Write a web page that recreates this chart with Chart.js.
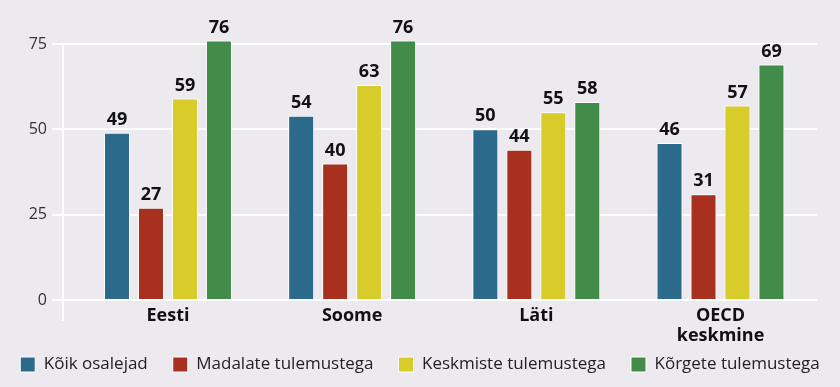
<!DOCTYPE html>
<html>
<head>
<meta charset="utf-8">
<script src="https://cdn.jsdelivr.net/npm/chart.js@4/dist/chart.umd.min.js"></script>
<style>
  html, body { margin: 0; padding: 0; background: #edeaef; }
  #wrap { width: 840px; height: 387px; }
</style>
</head>
<body>
<div id="wrap"><canvas id="myChart" width="840" height="387"></canvas></div>
<script>
var categories = ['Eesti', 'Soome', 'Läti', ['OECD', 'keskmine']];
var seriesNames = ['Kõik osalejad', 'Madalate tulemustega', 'Keskmiste tulemustega', 'Kõrgete tulemustega'];
var koikOsalejad = [49, 54, 50, 46];
var madalate = [27, 40, 44, 31];
var keskmiste = [59, 63, 55, 57];
var korgete = [76, 76, 58, 69];
var yTicks = [0, 25, 50, 75];
var colors = ['#2c6a8b', '#a8301f', '#d8cc2b', '#408c48'];

// value labels above the bars
var valueLabels = {
    id: 'valueLabels',
    afterDatasetsDraw: function(chart) {
        var ctx = chart.ctx;
        ctx.save();
        ctx.font = 'bold 18px "Open Sans"';
        ctx.fillStyle = '#111';
        ctx.textAlign = 'center';
        ctx.textBaseline = 'bottom';
        chart.data.datasets.forEach(function(ds, i) {
            chart.getDatasetMeta(i).data.forEach(function(bar, j) {
                ctx.fillText(ds.data[j], bar.x, bar.y - 4);
            });
        });
        ctx.restore();
    }
};

var allSeries = [koikOsalejad, madalate, keskmiste, korgete];

var ctx = document.getElementById('myChart').getContext('2d');
var chart = new Chart(ctx, {
    type: 'bar',
    data: {
        labels: categories,
        datasets: allSeries.map(function(values, i) {
            return {
                label: seriesNames[i],
                data: values,
                backgroundColor: colors[i],
                borderColor: '#ffffff',
                borderWidth: 1,
                categoryPercentage: 0.738,
                barPercentage: 0.765,
                clip: false
            };
        })
    },
    options: {
        responsive: false,
        animation: false,
        // negative side padding so the legend keeps one row
        layout: { padding: { top: 44, left: -10, right: -10, bottom: 4 } },
        plugins: {
            tooltip: { enabled: false },
            legend: {
                position: 'bottom',
                labels: {
                    boxWidth: 15,
                    boxHeight: 15,
                    padding: 25,
                    color: '#222',
                    font: { family: 'Open Sans', size: 17 }
                }
            }
        },
        scales: {
            x: {
                offset: true,
                grid: { display: false, drawTicks: false },
                border: { display: false },
                ticks: {
                    color: '#111',
                    mirror: true,
                    padding: -6,
                    font: { family: 'Open Sans', size: 18, weight: 'bold', lineHeight: 1.11 }
                },
                // pull the groups in from the axis line a little
                afterBuildTicks: function(scale) {
                    scale._startValue = -0.57;
                    scale._valueRange = 4.094;
                },
                afterFit: function(scale) { scale.height = 11; }
            },
            y: {
                min: -5.86,
                max: 75,
                afterBuildTicks: function(scale) {
                    scale.ticks = [{ value: -5.86 }].concat(yTicks.map(function(v) { return { value: v }; }));
                },
                grid: {
                    color: function(c) { return c.tick && c.tick.value < 0 ? 'rgba(0,0,0,0)' : '#ffffff'; },
                    lineWidth: 2,
                    tickLength: 11
                },
                border: { display: true, color: '#ffffff', width: 2 },
                ticks: {
                    color: '#333',
                    padding: 5,
                    font: { family: 'Open Sans', size: 16 },
                    callback: function(v) { return v < 0 ? '' : v; }
                },
                afterFit: function(scale) { scale.width = 73; }
            },
            spacer: {
                position: 'right',
                display: true,
                grid: { display: false },
                border: { display: false },
                ticks: { display: false },
                afterFit: function(scale) { scale.width = 33; }
            }
        }
    },
    plugins: [valueLabels]
});
</script>
</body>
</html>
